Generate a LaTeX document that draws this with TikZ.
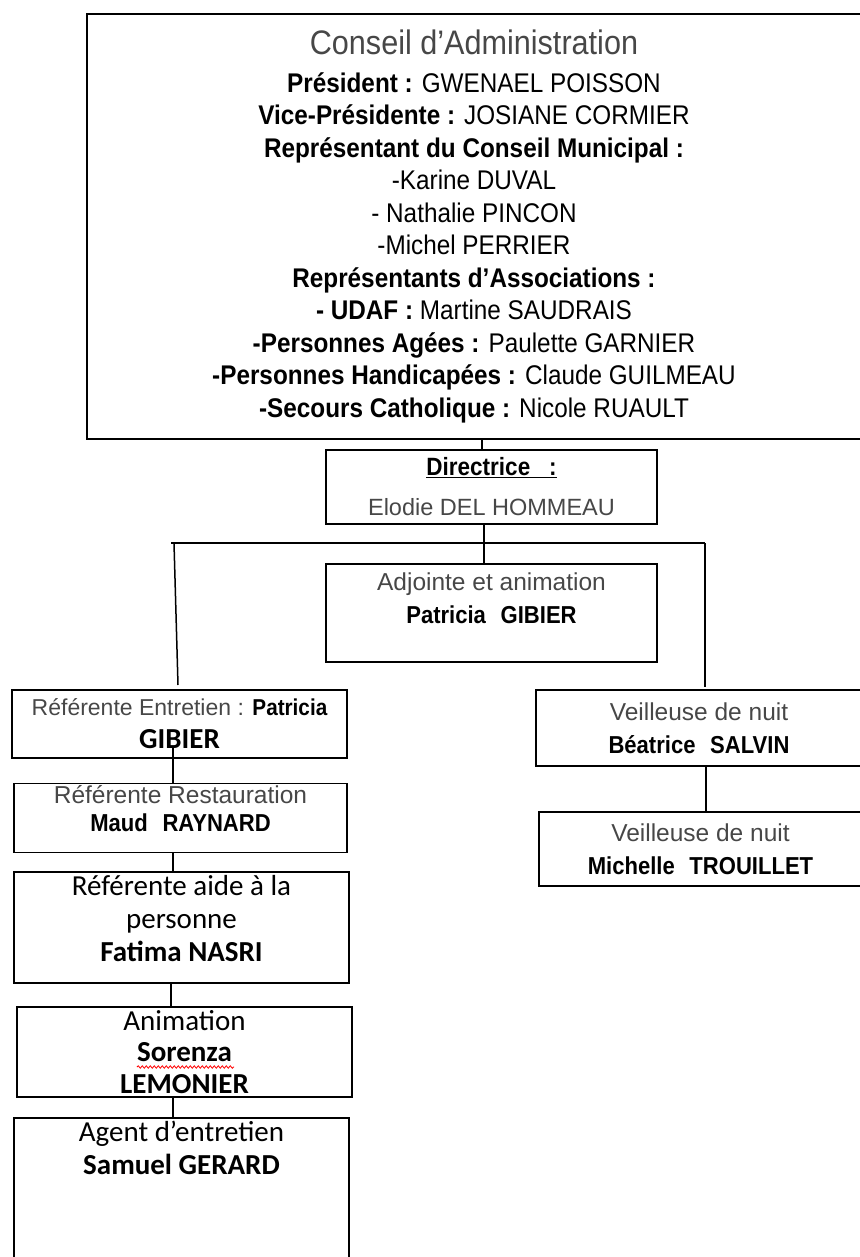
\documentclass[tikz,border=0pt]{standalone}
\usepackage{fontspec}
\setmainfont{Liberation Sans}
\newfontfamily\narrowfont{Liberation Sans}[FakeStretch=0.9]
\newfontfamily\namefont{Liberation Sans}[FakeStretch=0.9]
\newfontfamily\califont{Carlito}
\usetikzlibrary{positioning,decorations.pathmorphing}
\definecolor{softblack}{gray}{0.28}
\newcommand{\pushup}[1]{\rule[-#1]{0pt}{#1}}
\newcommand{\who}[1]{{\namefont\bfseries #1}}
\tikzset{box/.style={draw=black, line width=1.5pt, inner sep=2pt, align=center},
%connectors between the boxes
link/.style={draw=black, line width=1.5pt},
armfont/.style={font=\fontsize{24.5}{33}\selectfont},
califont/.style={font=\califont\fontsize{29}{33}\selectfont}}

\begin{document}
\begin{tikzpicture}[x=1pt,y=-1pt]
\useasboundingbox (0,0) rectangle (859,1257);

% conseil
\node[box, minimum width=774, minimum height=425,
      font=\narrowfont\fontsize{27}{32.5}\selectfont] (conseil) at (474,226.5)
{{\fontsize{34}{32}\selectfont\color{softblack}Conseil d’Administration}\\[5pt]
\textbf{Président :} GWENAEL POISSON\\
\textbf{Vice-Présidente :} JOSIANE CORMIER\\
\textbf{Représentant du Conseil Municipal :}\\
-Karine DUVAL\\
- Nathalie PINCON\\
-Michel PERRIER\\
\textbf{Représentants d’Associations :}\\
\textbf{- UDAF :} Martine SAUDRAIS\\
\textbf{-Personnes Agées :} Paulette GARNIER\\
\textbf{-Personnes Handicapées :} Claude GUILMEAU\\
\textbf{-Secours Catholique :} Nicole RUAULT};

% direction
\node[box, minimum width=331, minimum height=74,
      font=\fontsize{23.5}{40}\selectfont] (dir) at (491.5,487)
{{\narrowfont\fontsize{25}{30}\selectfont\underline{\textbf{Directrice~~~:}}}\\ {\color{softblack}Elodie DEL HOMMEAU}};

\node[box, minimum width=331, minimum height=98, armfont] (adj) at (491.5,613)
{{\color{softblack}Adjointe et animation}\\ \who{Patricia\hspace{0.6em}GIBIER}\pushup{30pt}};

% colonne de gauche
\node[box, minimum width=335, minimum height=68, font=\fontsize{23}{33}\selectfont] (refent) at (179.5,724)
{{\color{softblack}Référente Entretien :} \who{Patricia}\\
 {\califont\bfseries\fontsize{29}{30}\selectfont GIBIER}};

\node[box, minimum width=333, minimum height=66, font=\fontsize{24.5}{28}\selectfont] (refrest) at (180.5,818)
{{\color{softblack}Référente Restauration}\\ \who{Maud\hspace{0.6em}RAYNARD}\pushup{19pt}};

\node[box, minimum width=335, minimum height=111, califont] (refaide) at (181.5,927.5)
{Référente aide à la\\ personne\\ \textbf{Fatima NASRI}\pushup{19pt}};

\node[box, minimum width=335, minimum height=90, font=\califont\fontsize{29}{31.5}\selectfont] (anim) at (184.5,1052)
{Animation\\ \textbf{Sorenza}\\ \textbf{LEMONIER}};

\node[box, minimum width=335, minimum height=172, califont] (agent) at (181.5,1204)
{Agent d’entretien\\ \textbf{Samuel GERARD}\pushup{112pt}};

% veilleuses
\node[box, minimum width=326, minimum height=76, armfont] (veil1) at (699,728)
{{\color{softblack}Veilleuse de nuit}\\ \who{Béatrice\hspace{0.6em}SALVIN}};

\node[box, minimum width=323, minimum height=74, armfont] (veil2) at (700.5,849)
{{\color{softblack}Veilleuse de nuit}\\ \who{Michelle\hspace{0.6em}TROUILLET}};

\coordinate (barL) at (171,543);
\coordinate (barR) at (705,543);
\coordinate (legL) at (178,685);
\coordinate (legR) at (705,687);

\draw[link] ([xshift=-9.5pt]dir.north) -- ([xshift=-9.5pt]dir.north |- conseil.south);
\draw[link] ([xshift=-7.5pt]dir.south) -- ([xshift=-7.5pt]adj.north);
\draw[link] (barL) -- (barR);
\draw[link] ([xshift=3pt]barL) -- (legL);
\draw[link] (barR) -- (legR);

\draw[link] ([xshift=-7.5pt]refrest.north) -- ([xshift=-6.5pt,yshift=11pt]refent.south);
\draw[link] ([xshift=-7.5pt]refrest.south) -- ([xshift=-7.5pt]refrest.south |- refaide.north);
\draw[link] ([xshift=-10.5pt]refaide.south) -- ([xshift=-10.5pt]refaide.south |- anim.north);
\draw[link] ([xshift=-11.5pt]anim.south) -- ([xshift=-11.5pt]anim.south |- agent.north);
\draw[link] ([xshift=7pt]veil1.south) -- ([xshift=7pt]veil1.south |- veil2.north);

% soulignement du correcteur
\draw[red, line width=0.8pt, decorate, decoration={snake, amplitude=1.2pt, segment length=4pt}]
  (137,1067) -- (234,1067);

\end{tikzpicture}
\end{document}
